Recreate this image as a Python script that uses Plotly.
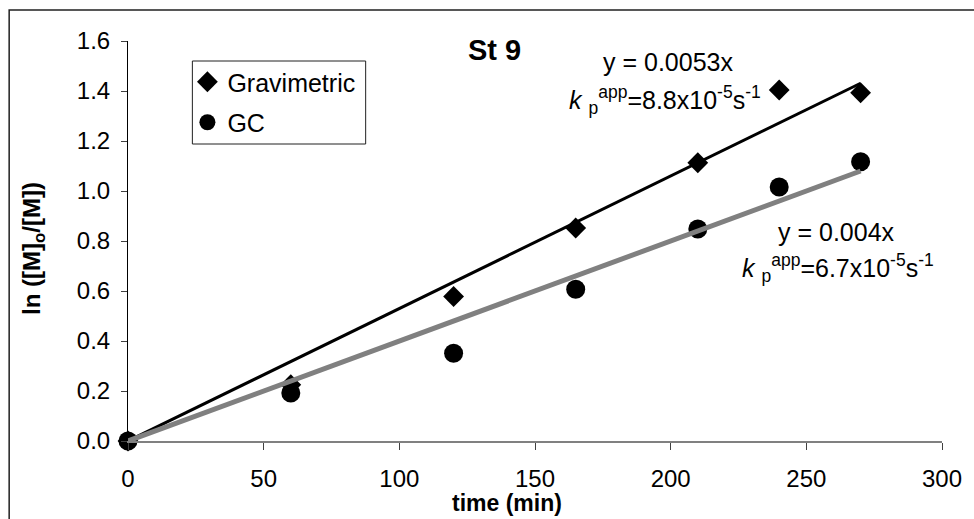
import plotly.graph_objects as go

# Monomer conversion kinetics for St 9
time_grav = [0, 60, 120, 165, 210, 240, 270]
ln_grav = [0.0, 0.225, 0.578, 0.852, 1.113, 1.404, 1.393]

time_gc = [0, 60, 120, 165, 210, 240, 270]
ln_gc = [0.0, 0.192, 0.351, 0.607, 0.848, 1.016, 1.117]

# Linear fits through the origin
slope_grav = 0.0053
slope_gc = 0.004
fit_x = [0, 270]

x_ticks = [0, 50, 100, 150, 200, 250, 300]
y_ticks = [0.0, 0.2, 0.4, 0.6, 0.8, 1.0, 1.2, 1.4, 1.6]

FONT = "Arial, Liberation Sans, sans-serif"

# plot-area pixel geometry, used to place paper-referenced items
L, R, T, B = 128, 950, 41, 441
W, H = R - L, B - T


def px(xp):
    return (xp - L) / W


def py(yp):
    return (B - yp) / H


fig = go.Figure()

fig.add_trace(go.Scatter(
    x=time_grav, y=ln_grav, mode="markers", name="Gravimetric",
    marker=dict(symbol="diamond", size=16, color="black"),
    cliponaxis=False, legendgroup="g1",
))
fig.add_trace(go.Scatter(
    x=time_gc, y=ln_gc, mode="markers", name="GC",
    marker=dict(symbol="circle", size=19, color="black"),
    cliponaxis=False, legendgroup="g2",
))
fig.add_trace(go.Scatter(
    x=fit_x, y=[slope_grav * v for v in fit_x], mode="lines",
    line=dict(color="black", width=3), showlegend=False,
))
fig.add_trace(go.Scatter(
    x=fit_x, y=[slope_gc * v for v in fit_x], mode="lines",
    line=dict(color="#808080", width=5), showlegend=False,
))

annotations = [
    dict(x=135, y=1.564, text="<b>St 9</b>", font=dict(size=29)),
    dict(x=199, y=1.516, text="y = 0.0053x"),
    dict(x=198, y=1.364,
         text="<i>k</i> <sub>p</sub><sup>app</sup>=8.8x10<sup>-5</sup>s<sup>-1</sup>"),
    dict(x=261, y=0.836, text="y = 0.004x"),
    dict(x=261.5, y=0.692,
         text="<i>k</i> <sub>p</sub><sup>app</sup>=6.7x10<sup>-5</sup>s<sup>-1</sup>"),
]
for a in annotations:
    a.update(xref="x", yref="y", showarrow=False,
             xanchor="center", yanchor="middle")
    a.setdefault("font", dict(size=25))
    a["font"].update(family=FONT, color="black")

annotations.append(dict(
    xref="paper", yref="paper", x=px(511), y=py(503),
    text="<b>time (min)</b>", showarrow=False,
    xanchor="center", yanchor="middle",
    font=dict(family=FONT, size=23, color="black"),
))
annotations.append(dict(
    xref="paper", yref="paper", x=px(32), y=py(248),
    text="<b>ln ([M]<sub>o</sub>/[M])</b>", textangle=-90, showarrow=False,
    xanchor="center", yanchor="middle",
    font=dict(family=FONT, size=24, color="black"),
))

fig.update_layout(
    width=974, height=519,
    margin=dict(l=L, r=974 - R, t=T, b=519 - B),
    paper_bgcolor="white", plot_bgcolor="white",
    font=dict(family=FONT, size=23, color="black"),
    annotations=annotations,
    showlegend=True,
    legend=dict(
        x=px(188), y=py(59),
        xanchor="left", yanchor="top",
        bgcolor="rgba(0,0,0,0)", borderwidth=0,
        font=dict(family=FONT, size=25, color="black"),
        tracegroupgap=5, traceorder="grouped", itemwidth=30,
    ),
    shapes=[
        # legend frame
        dict(type="rect", xref="paper", yref="paper",
             x0=px(193), x1=px(368), y0=py(144), y1=py(61),
             line=dict(color="#202020", width=1)),
        # outer chart frame
        dict(type="rect", xref="paper", yref="paper",
             x0=px(8), x1=px(990), y0=py(540), y1=py(10),
             line=dict(color="#202020", width=1.5)),
    ],
)

fig.update_xaxes(
    range=[0, 300], tickvals=x_ticks, ticktext=[str(v) for v in x_ticks],
    showgrid=False, zeroline=False, showline=True, linecolor="#808080",
    linewidth=1.5, ticks="outside", ticklen=7, tickcolor="#404040",
    tickwidth=1, ticklabelstandoff=8,
    tickfont=dict(family=FONT, size=24, color="black"),
)
fig.update_yaxes(
    range=[0, 1.6], tickvals=y_ticks, ticktext=[f"{v:.1f}" for v in y_ticks],
    showgrid=False, zeroline=False, showline=True, linecolor="black",
    linewidth=1, ticks="outside", ticklen=6, tickcolor="#404040",
    tickwidth=1, ticklabelstandoff=6,
    tickfont=dict(family=FONT, size=24, color="black"),
)

fig.write_html("out.html")
